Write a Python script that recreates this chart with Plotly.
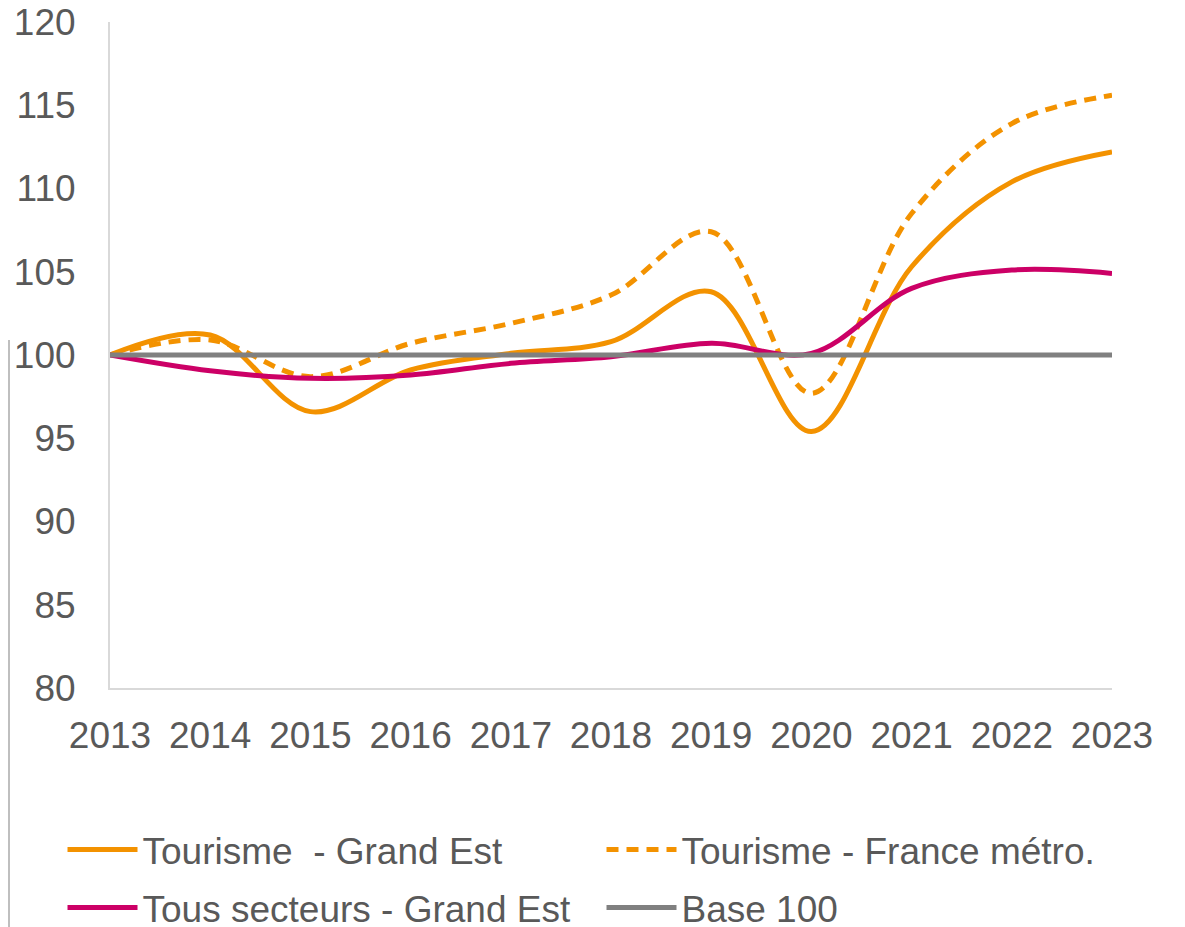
import plotly.graph_objects as go

years = [2013, 2014, 2015, 2016, 2017, 2018, 2019, 2020, 2021, 2022, 2023]
tourisme_ge = [100, 101.2, 96.6, 99.1, 100.1, 100.8, 103.8, 95.4, 105.3, 110.4, 112.2]
tourisme_fr = [100, 100.9, 98.7, 100.7, 101.9, 103.6, 107.4, 97.7, 108.5, 113.9, 115.6]
tous_secteurs = [100, 99.05, 98.6, 98.8, 99.5, 99.9, 100.7, 100.1, 104.0, 105.1, 104.9]
base100 = [100] * len(years)

ORANGE = "#F39200"
MAGENTA = "#CC0066"
GRAY = "#808080"
TXT = "#595959"
FONT = "Liberation Sans, Arial, sans-serif"
LW = 5

fig = go.Figure()
fig.add_trace(go.Scatter(x=years, y=tourisme_ge, name="Tourisme  - Grand Est", mode="lines",
                         legend="legend",
                         line=dict(color=ORANGE, width=LW, shape="spline", smoothing=1)))
fig.add_trace(go.Scatter(x=years, y=tourisme_fr, name="Tourisme - France métro.", mode="lines",
                         legend="legend",
                         line=dict(color=ORANGE, width=LW, shape="spline", smoothing=1, dash="12px,8px")))
fig.add_trace(go.Scatter(x=years, y=tous_secteurs, name="Tous secteurs - Grand Est", mode="lines",
                         legend="legend2",
                         line=dict(color=MAGENTA, width=LW, shape="spline", smoothing=1)))
fig.add_trace(go.Scatter(x=years, y=base100, name="Base 100", mode="lines",
                         legend="legend2",
                         line=dict(color=GRAY, width=LW)))

leg_common = dict(orientation="h", xref="paper", yref="paper",
                  x=-0.0474, xanchor="left", yanchor="top",
                  entrywidth=454, entrywidthmode="pixels", itemwidth=70,
                  font=dict(family=FONT, size=37, color=TXT),
                  bgcolor="rgba(0,0,0,0)", traceorder="normal")

fig.update_layout(
    width=1185, height=927,
    margin=dict(l=102, r=81, t=14, b=247, autoexpand=False),
    plot_bgcolor="white", paper_bgcolor="white",
    font=dict(family=FONT, size=37, color=TXT),
    showlegend=True,
    legend=dict(leg_common, y=-0.1967),
    legend2=dict(leg_common, y=-0.2838),
    xaxis=dict(range=[2013, 2023], tickmode="array", tickvals=years,
               ticktext=[str(y) for y in years], showgrid=False, zeroline=False,
               showline=True, linecolor="#D9D9D9", linewidth=2, ticks="",
               ticklabelstandoff=14, ticklabeloverflow="allow",
               tickfont=dict(size=37, color=TXT), automargin=False),
    yaxis=dict(range=[80, 120], tickmode="array", tickvals=list(range(80, 121, 5)),
               showgrid=False, zeroline=False, showline=True, linecolor="#D9D9D9",
               linewidth=2, ticks="", ticklabelstandoff=25, ticklabeloverflow="allow",
               tickfont=dict(size=37, color=TXT), automargin=False),
    shapes=[dict(type="line", xref="paper", xsizemode="pixel", xanchor=0,
                 x0=-101, x1=-101, yref="paper", ysizemode="pixel", yanchor=0,
                 y0=348, y1=-250, line=dict(color="#BFBFBF", width=2))],
)

fig.write_html("out.html")
